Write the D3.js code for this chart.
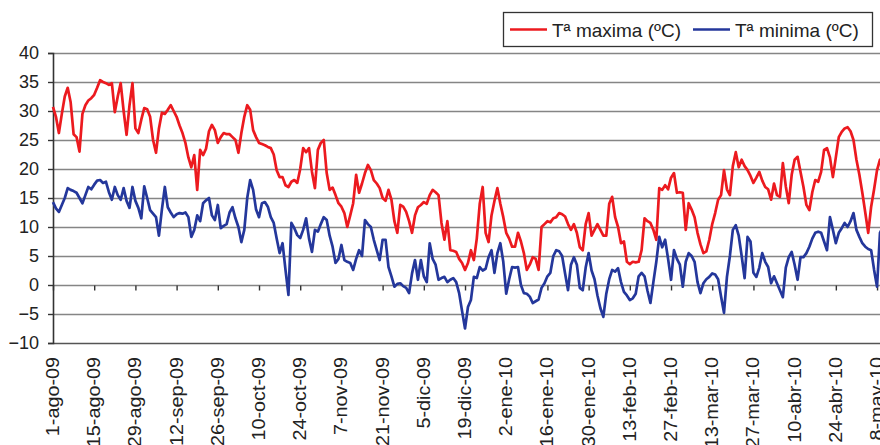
<!DOCTYPE html>
<html>
<head>
<meta charset="utf-8">
<script src="https://cdn.jsdelivr.net/npm/d3@7"></script>
<style>
  body { margin: 0; background: #fff; }
  svg { display: block; font-family: Arial, "Liberation Sans", sans-serif; }
</style>
</head>
<body>
<div id="chart"></div>
<script>
// daily max temperature, 1-ago-09 onwards
var tmax = [
  30.7, 29, 26.2, 29.5, 32.5, 34, 31.5, 26, 25.5, 23,
  29.5, 31, 31.8, 32.2, 32.8, 34, 35.3, 35, 34.8, 34.5,
  34.8, 29.8, 32.5, 34.8, 30, 25.9, 31, 34.8, 27, 26.2,
  28.5, 30.5, 30.3, 29, 25, 22.8, 27, 29.7, 29.5, 30.2,
  31, 30, 29, 27.5, 26.2, 24.5, 22, 20.3, 22.4, 16.4,
  23.3, 22.4, 23.5, 26.5, 27.6, 26.7, 24.5, 25.5, 26.2, 26,
  26, 25.5, 25, 22.8, 26.2, 29, 31, 30.2, 26.7, 25.5,
  24.5, 24.3, 24.1, 23.8, 23.6, 22.5, 19.8, 18.6, 18.6, 17.2,
  16.9, 17.8, 18.1, 17.6, 20, 23.6, 22.9, 23.6, 19.5, 16.7,
  23.3, 24.5, 25, 19.3, 16.4, 16.8, 15.5, 14.1, 13.5, 12.4,
  10, 12, 14.1, 19, 15.9, 17.5, 19.3, 20.7, 19.8, 18.1,
  17.5, 16.7, 15, 14.5, 16.4, 14.7, 11, 9, 13.8, 13.5,
  12.6, 11, 9, 12, 13.4, 13.8, 14.3, 14, 15.5, 16.4,
  16, 15.5, 10.7, 7.8, 11, 6, 5.9, 5.7, 4.5, 3.8,
  2.6, 3.8, 6, 4.3, 8, 14, 16.9, 9, 7.4, 12,
  14.5, 16.7, 14, 11.7, 9, 8, 6.6, 6.6, 9, 7.5,
  5.5, 2.6, 3.5, 4.8, 4.5, 2.6, 10, 10.5, 11, 10.8,
  11.5, 11.7, 12.4, 12.2, 11.8, 10.5, 9.5, 10.5, 9, 6.5,
  6, 10.5, 12.4, 8.5, 9.5, 10.5, 9.5, 8.5, 8.5, 14,
  15.2, 11.7, 10, 7.2, 7.5, 4, 3.6, 4, 3.9, 4,
  6, 11.5, 11, 10.7, 9.5, 7.8, 16.7, 16.4, 17.2, 16.5,
  18.5, 19.3, 15.9, 16, 15.9, 9.5, 14.1, 13, 11.7, 9,
  7, 5.5, 5.8, 7.8, 10.5, 12.4, 14.7, 15.5, 19.8, 16.5,
  15.5, 20.5, 22.9, 20.3, 21.6, 20.5, 19.8, 18.8, 17.6, 18.5,
  19.5, 18, 16.9, 16.5, 14.7, 17.5, 15.5, 15.2, 21, 17,
  14.1, 19, 21.6, 22.1, 19.5, 16.9, 13.8, 12.9, 16, 18.1,
  17.8, 19.5, 23.3, 23.6, 22, 18.6, 22, 25.5, 26.4, 27,
  27.2, 26.5, 25, 21.6, 19, 15.9, 12.5, 9, 13.5, 16.5,
  19.8, 21.6, 22
];

// daily min temperature
var tmin = [
  14.3, 13.2, 12.6, 13.8, 15, 16.7, 16.4, 16.2, 15.9, 15,
  14.1, 15.5, 16.9, 16.5, 17.3, 18, 18.1, 17.6, 17.8, 16,
  14.7, 16.9, 15.5, 14.7, 16.7, 14.5, 13.3, 16.9, 14.5, 13.3,
  11.5, 17, 15, 12.9, 12.3, 11.7, 8.5, 13, 16.9, 13.4,
  12.5, 11.7, 12.2, 12.4, 12.3, 12.5, 11.7, 8.3, 9.5, 12,
  11, 14.1, 14.6, 15, 12, 11.2, 13.8, 9.8, 10.2, 10.5,
  12.5, 13.4, 11.5, 10, 7.4, 9.5, 15, 18.1, 16.4, 13,
  11.7, 14.1, 14.3, 13.5, 11.7, 10.7, 8, 5.5, 7.2, 2.6,
  -1.7, 10.7, 9.8, 8.6, 8.1, 9.5, 11.5, 8, 5.7, 9.5,
  9.2, 10.5, 11.7, 11.2, 8.5, 6.6, 3.8, 4.5, 6.9, 4.3,
  4, 3.8, 2.6, 4.5, 6, 5, 11.2, 10.5, 10, 7.8,
  6, 4.3, 7.8, 7.8, 3.1, 1.5, -0.3, 0.2, 0.3, -0.2,
  -0.5, -1.4, 2, 4.3, 0.9, 4.3, 1.5, 0.5, 7.2, 4.5,
  3.5, 0.9, 1.2, 1.4, 0.5, 0.9, 1.2, 0.5, -1.4, -4.5,
  -7.5, -3.8, -2.6, 1.4, 1.2, 3.1, 2.5, 2.8, 4.8, 6,
  2.1, 5.5, 7.2, 4, -1.5, 1, 3.1, 3, 3.1, 0,
  -1.4, -1.5, -2, -3.1, -2.8, -2.5, -0.5, 0.3, 1.5, 2.1,
  5, 6, 5.8, 5, 2, -0.9, 3.5, 4.8, 3.5, -0.5,
  -0.9, 3, 5.5, 2.5, 1, -1.8, -4, -5.5, -1.5, 1,
  2.6, 2.3, 2.9, 0.5, -1.2, -1.8, -2.6, -2.3, -1.5, 1.5,
  2.1, 1.5, -1, -3.1, 0.5, 4, 8.3, 6.5, 7.8, 4.5,
  0.9, 6, 4.5, 3.5, -0.3, 4, 5.5, 5, 4, 0.5,
  -1.4, 0.3, 1, 1.4, 2, 1.8, 1, -2, -4.8, 1.4,
  5, 9.5, 10.3, 8.5, 5, 1.2, 8.3, 7.5, 2.1, 1.4,
  3, 5.5, 4, 3.1, 0.3, 1.5, 0.3, -0.9, -2.1, 3,
  4.8, 5.7, 3.5, 0.9, 4.8, 4.8, 5.5, 6.6, 8, 9,
  9.2, 9, 7.5, 6, 11.7, 9.5, 7.2, 9, 9.8, 10.7,
  10, 11, 12.4, 9.5, 8.3, 7.2, 6.6, 6.2, 6, 2.6,
  -0.3, 9, 10
];

// one label every 14 days
var tickLabels = [
  "1-ago-09", "15-ago-09", "29-ago-09", "12-sep-09", "26-sep-09", "10-oct-09",
  "24-oct-09", "7-nov-09", "21-nov-09", "5-dic-09", "19-dic-09", "2-ene-10",
  "16-ene-10", "30-ene-10", "13-feb-10", "27-feb-10", "13-mar-10", "27-mar-10",
  "10-abr-10", "24-abr-10", "8-may-10"
];
var tickStep = 14;
var yTicks = [-10, -5, 0, 5, 10, 15, 20, 25, 30, 35, 40];
var seriesNames = ["Tª maxima (ºC)", "Tª minima (ºC)"];
var colors = ["#ec1a1f", "#24379b"];

var width = 880, height = 445;
var plotLeft = 53, plotTop = 53, plotBottom = 343, dayW = 2.943;

var svg = d3.select("#chart").append("svg")
    .attr("width", width)
    .attr("height", height);

var x = d3.scaleLinear()
    .domain([0, tmax.length - 1])
    .range([plotLeft, plotLeft + dayW * (tmax.length - 1)]);
var y = d3.scaleLinear()
    .domain([-10, 40])
    .range([plotBottom, plotTop]);

// horizontal gridlines
svg.append("g")
  .selectAll("line")
  .data(yTicks)
  .enter().append("line")
    .attr("x1", plotLeft)
    .attr("x2", width)
    .attr("y1", function (d) { return y(d) + 0.5; })
    .attr("y2", function (d) { return y(d) + 0.5; })
    .attr("stroke", function (d) { return d === -10 ? "#555" : "#858585"; })
    .attr("stroke-width", 1.6);

// value axis
var yAxis = svg.append("g")
    .attr("transform", "translate(" + plotLeft + ",0)")
    .call(d3.axisLeft(y).tickValues(yTicks).tickSize(5).tickPadding(9));
yAxis.select(".domain").attr("stroke", "#333").attr("stroke-width", 1.6);
yAxis.selectAll(".tick line").attr("stroke", "#333").attr("stroke-width", 1.4);
yAxis.selectAll("text")
    .attr("font-size", "18px")
    .attr("font-family", "Arial, 'Liberation Sans', sans-serif")
    .attr("fill", "#222");

// category axis crossing at 0
var xAxis = svg.append("g")
    .attr("transform", "translate(0," + (y(0) + 0.5) + ")")
    .call(d3.axisBottom(x)
      .tickValues(tickLabels.map(function (d, i) { return i * tickStep; }))
      .tickSize(5)
      .tickFormat(""));
xAxis.select(".domain").remove();
xAxis.selectAll(".tick line").attr("stroke", "#333").attr("stroke-width", 1.4);

svg.append("g")
  .selectAll("text")
  .data(tickLabels)
  .enter().append("text")
    .attr("transform", function (d, i) {
      return "translate(" + (x(i * tickStep) + 6) + ",357) rotate(-90) scale(1.1,1)";
    })
    .attr("text-anchor", "end")
    .attr("font-size", "18px")
    .attr("fill", "#222")
    .text(function (d) { return d; });

// series lines
var line = d3.line()
    .x(function (d, i) { return x(i); })
    .y(function (d) { return y(d); });

[tmax, tmin].forEach(function (s, k) {
  svg.append("path")
    .datum(s)
    .attr("d", line)
    .attr("fill", "none")
    .attr("stroke", colors[k])
    .attr("stroke-width", 2.7)
    .attr("stroke-linejoin", "round");
});

// legend
var legend = svg.append("g");
legend.append("rect")
    .attr("x", 503.5).attr("y", 12.5)
    .attr("width", 369).attr("height", 34)
    .attr("fill", "#fff")
    .attr("stroke", "#333")
    .attr("stroke-width", 1.3);
var legendX = [510, 693];
seriesNames.forEach(function (name, k) {
  legend.append("line")
    .attr("x1", legendX[k]).attr("x2", legendX[k] + 37)
    .attr("y1", 29.5).attr("y2", 29.5)
    .attr("stroke", colors[k])
    .attr("stroke-width", 2.7);
  legend.append("text")
    .attr("x", legendX[k] + 42)
    .attr("y", 36.5)
    .attr("font-size", "19px")
    .attr("fill", "#222")
    .text(name);
});
</script>
</body>
</html>
